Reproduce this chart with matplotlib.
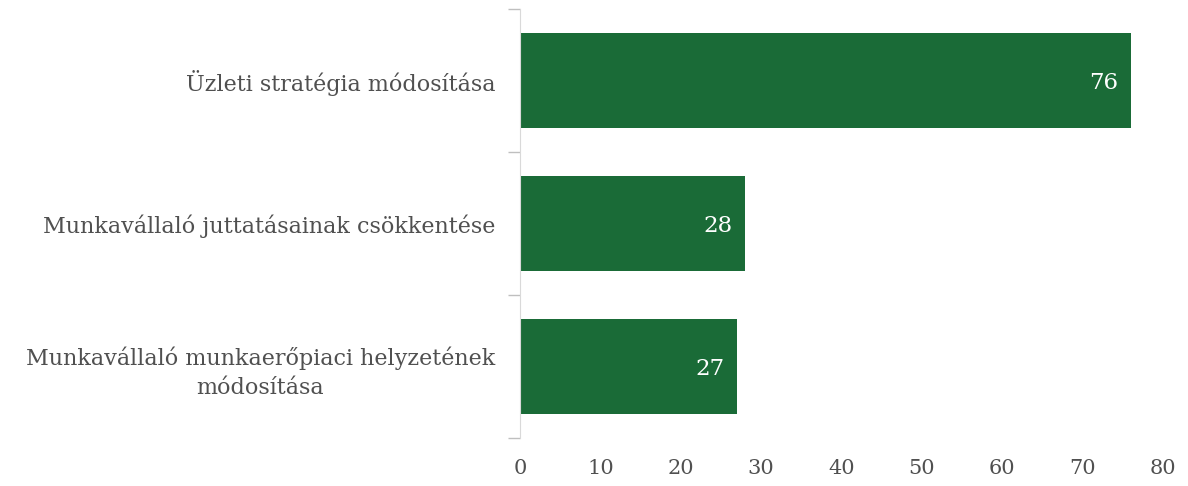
import matplotlib.pyplot as plt

categories = ['Üzleti stratégia módosítása',
              'Munkavállaló juttatásainak csökkentése',
              'Munkavállaló munkaerőpiaci helyzetének\nmódosítása']
values = [76, 28, 27]
xticks = [0, 10, 20, 30, 40, 50, 60, 70, 80]

plt.rcParams['font.family'] = ['DejaVu Serif']

fig = plt.figure(figsize=(11.88, 4.86), dpi=100)
ax = fig.add_axes([520 / 1188, 1 - 438 / 486, 643 / 1188, 429 / 486])

pos = list(range(len(categories)))
ax.barh(pos, values, height=0.66, color='#1a6b37')
for p, v in zip(pos, values):
    ax.text(v - 1.6, p + 0.02, str(v), color='white', fontsize=16.5, ha='right', va='center')

ax.set_ylim(2.5, -0.5)
ax.set_xlim(0, 80)
ax.set_xticks(xticks)
ax.set_xticklabels([str(t) for t in xticks], fontsize=15, color='#505050')
ax.tick_params(axis='x', length=0, pad=15)

ax.set_yticks([-0.5, 0.5, 1.5, 2.5])
ax.set_yticklabels([])
ax.set_yticks(pos, minor=True)
ax.set_yticklabels(categories, minor=True, fontsize=16, color='#505050',
                   ha='right', multialignment='center', linespacing=1.4)
ax.tick_params(axis='y', which='major', length=9, color='#bfbfbf', width=1)
ax.tick_params(axis='y', which='minor', length=0, pad=18)

for s in ['top', 'right', 'bottom']:
    ax.spines[s].set_visible(False)
ax.spines['left'].set_color('#d9d9d9')

fig.savefig('out.png', dpi=100)
